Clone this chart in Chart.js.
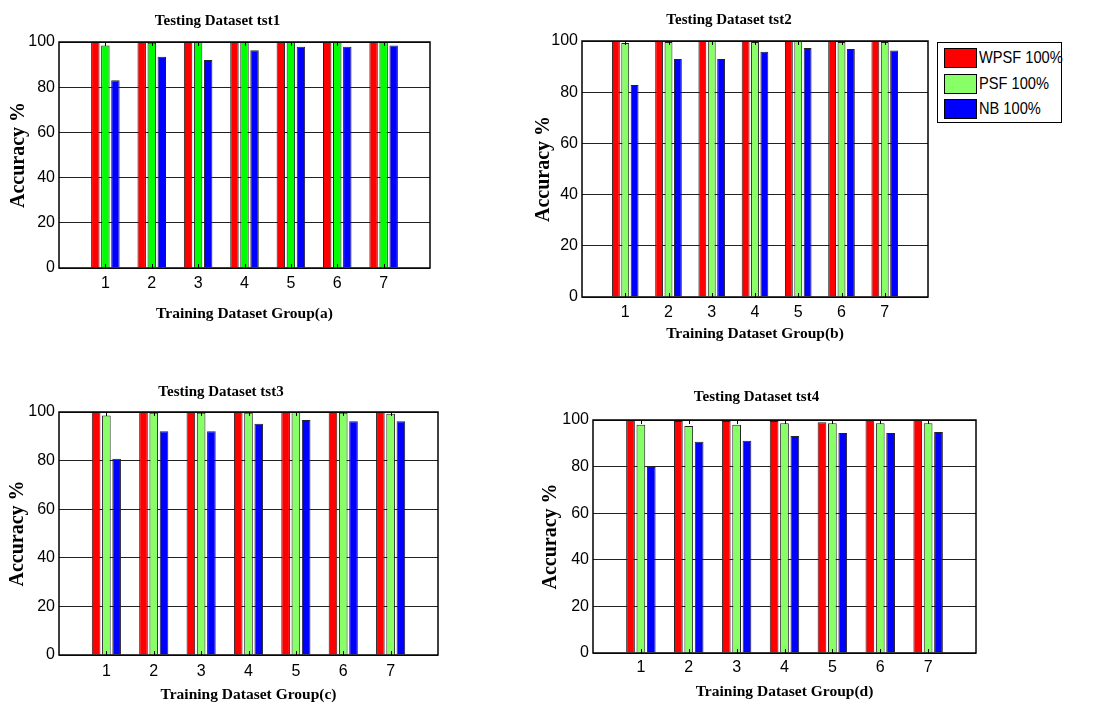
<!DOCTYPE html>
<html>
<head>
<meta charset="utf-8">
<script src="https://cdn.jsdelivr.net/npm/chart.js@4.4.1/dist/chart.umd.min.js"></script>
<style>
  body { margin: 0; background: #fff; width: 1113px; height: 707px; position: relative; overflow: hidden; }
  .panel { position: absolute; }
  #legend { position: absolute; left: 937px; top: 42px; width: 125px; height: 81px;
            box-sizing: border-box; border: 1px solid #000; background: #fff; }
  .row { position: absolute; left: 0; height: 20px; width: 100%; }
  .sw { position: absolute; left: 6px; top: 0; width: 33px; height: 20px; box-sizing: border-box; border: 1px solid #000; }
  .lab { position: absolute; left: 41px; top: 0; line-height: 20px; font-size: 17px; color: #000;
         font-family: "Liberation Sans Narrow", "Liberation Sans", Arial, sans-serif; white-space: nowrap;
         transform: scaleX(0.86); transform-origin: left center; }
</style>
</head>
<body>
<div id="p1" class="panel"><canvas id="c1"></canvas></div>
<div id="p2" class="panel"><canvas id="c2"></canvas></div>
<div id="p3" class="panel"><canvas id="c3"></canvas></div>
<div id="p4" class="panel"><canvas id="c4"></canvas></div>
<div id="legend"></div>
<script>
// data
const groups = [1, 2, 3, 4, 5, 6, 7];
const seriesNames = ["WPSF 100%", "PSF 100%", "NB 100%"];

const wpsfTst1 = [100, 100, 100, 100, 100, 100, 100];
const psfTst1 = [98.5, 99.7, 100, 100, 100, 100, 100];
const nbTst1 = [83.1, 93.5, 92.0, 96.3, 97.9, 97.9, 98.5];

const wpsfTst2 = [100, 100, 100, 100, 100, 100, 100];
const psfTst2 = [99.2, 99.6, 100, 99.6, 100, 99.6, 99.6];
const nbTst2 = [82.8, 93.0, 93.0, 95.8, 97.3, 96.9, 96.3];

const wpsfTst3 = [100, 100, 100, 100, 100, 100, 100];
const psfTst3 = [98.6, 99.7, 99.7, 99.7, 100, 99.7, 99.3];
const nbTst3 = [80.8, 92.1, 92.1, 95.2, 96.7, 96.2, 96.2];

const wpsfTst4 = [100, 99.6, 99.6, 99.6, 99.0, 100, 100];
const psfTst4 = [98.0, 97.4, 98.0, 98.6, 98.6, 98.6, 98.6];
const nbTst4 = [79.8, 90.7, 91.1, 93.1, 94.4, 94.4, 94.8];

const RED = "#ff0000";
const GREEN = "#00ff00";
const LIGHT_GREEN = "#88ff66";
const BLUE = "#0000ff";

const SANS = '"Liberation Sans Narrow", "Liberation Sans", Arial, sans-serif';
const SERIF = '"Liberation Serif", "Times New Roman", serif';

// box around the plot plus small inward x ticks, like the matlab axes
const framePlugin = {
    id: "frame",
    afterDatasetsDraw(chart) {
        const { ctx, chartArea: a, scales } = chart;
        ctx.save();
        ctx.strokeStyle = "#000";
        ctx.lineWidth = 1;
        groups.forEach((g) => {
            const x = Math.round(scales.x.getPixelForValue(g)) + 0.5;
            ctx.beginPath();
            ctx.moveTo(x, a.bottom); ctx.lineTo(x, a.bottom - 4);
            ctx.moveTo(x, a.top); ctx.lineTo(x, a.top + 4);
            ctx.stroke();
        });
        ctx.lineWidth = 1.5;
        ctx.strokeRect(a.left, a.top, a.right - a.left, a.bottom - a.top);
        ctx.restore();
    },
};

const drawPanel = (id, p, title, xTitle, series, colors) => {
    const canvas = document.getElementById("c" + id);
    const box = document.getElementById("p" + id);
    const left = p.yTitleX - 14, top = p.titleY - 14;
    const right = p.r + 8, bottom = p.xTitleY + 14;
    box.style.left = left + "px";
    box.style.top = top + "px";
    canvas.width = right - left;
    canvas.height = bottom - top;
    const yW = p.l - left;
    const xH = bottom - p.b;
    const titleLH = 15 * 1.2;

    new Chart(canvas.getContext("2d"), {
        type: "bar",
        data: {
            datasets: series.map((vals, i) => ({
                label: seriesNames[i],
                data: groups.map((g, j) => ({ x: g, y: vals[j] })),
                backgroundColor: colors[i],
                borderColor: "#222",
                borderWidth: 1,
                categoryPercentage: 0.65,
                barPercentage: 0.84,
            })),
        },
        options: {
            responsive: false,
            animation: false,
            layout: { padding: { left: 0, right: 8, top: 0, bottom: 0 } },
            plugins: {
                legend: { display: false },
                tooltip: { enabled: false },
                title: {
                    display: true,
                    text: title,
                    color: "#000",
                    font: { family: SERIF, size: 15, weight: "bold" },
                    padding: { top: 14 - titleLH / 2, bottom: p.t - top - (14 - titleLH / 2) - titleLH },
                },
            },
            scales: {
                x: {
                    type: "linear",
                    min: 0,
                    max: 8,
                    offset: false,
                    grid: { display: false, drawTicks: false },
                    border: { display: false },
                    ticks: {
                        stepSize: 1,
                        autoSkip: false,
                        maxRotation: 0,
                        color: "#000",
                        padding: p.xTickY - p.b - 16 * 1.2 / 2,
                        font: { family: SANS, size: 16 },
                        callback: (v) => (v >= 1 && v <= 7 ? String(v) : ""),
                    },
                    title: {
                        display: true,
                        text: xTitle,
                        color: "#000",
                        font: { family: SERIF, size: 15.5, weight: "bold" },
                        padding: { top: 0, bottom: 14 - 9.3 },
                    },
                    afterFit: (s) => { s.height = xH; },
                },
                y: {
                    min: 0,
                    max: 100,
                    grid: { color: "#222", lineWidth: 1, drawTicks: false },
                    border: { display: false },
                    ticks: {
                        stepSize: 20,
                        color: "#000",
                        padding: 4,
                        font: { family: SANS, size: 16 },
                    },
                    title: {
                        display: true,
                        text: "Accuracy %",
                        color: "#000",
                        font: { family: SERIF, size: 20, weight: "bold" },
                        padding: { top: 14 - 20 * 1.2 / 2, bottom: 0 },
                    },
                    afterFit: (s) => { s.width = yW; },
                },
            },
        },
        plugins: [framePlugin],
    });
};

drawPanel(1, { l: 59, r: 430, t: 42, b: 268, titleY: 21, xTickY: 284, xTitleY: 314, yTitleX: 19 },
    "Testing Dataset tst1", "Training Dataset Group(a)",
    [wpsfTst1, psfTst1, nbTst1], [RED, GREEN, BLUE]);
drawPanel(2, { l: 582, r: 928, t: 41, b: 297, titleY: 20, xTickY: 313, xTitleY: 334, yTitleX: 544 },
    "Testing Dataset tst2", "Training Dataset Group(b)",
    [wpsfTst2, psfTst2, nbTst2], [RED, LIGHT_GREEN, BLUE]);
drawPanel(3, { l: 59, r: 438, t: 412, b: 655, titleY: 392, xTickY: 672, xTitleY: 695, yTitleX: 18 },
    "Testing Dataset tst3", "Training Dataset Group(c)",
    [wpsfTst3, psfTst3, nbTst3], [RED, LIGHT_GREEN, BLUE]);
drawPanel(4, { l: 593, r: 976, t: 420, b: 653, titleY: 397, xTickY: 668, xTitleY: 692, yTitleX: 551 },
    "Testing Dataset tst4", "Training Dataset Group(d)",
    [wpsfTst4, psfTst4, nbTst4], [RED, LIGHT_GREEN, BLUE]);

// legend of the top right panel
const legend = document.getElementById("legend");
[RED, LIGHT_GREEN, BLUE].forEach((c, i) => {
    const row = document.createElement("div");
    row.className = "row";
    row.style.top = (5 + i * 25.5) + "px";
    row.innerHTML = '<div class="sw" style="background:' + c + '"></div><div class="lab"></div>';
    row.querySelector(".lab").textContent = seriesNames[i];
    legend.appendChild(row);
});
</script>
</body>
</html>
